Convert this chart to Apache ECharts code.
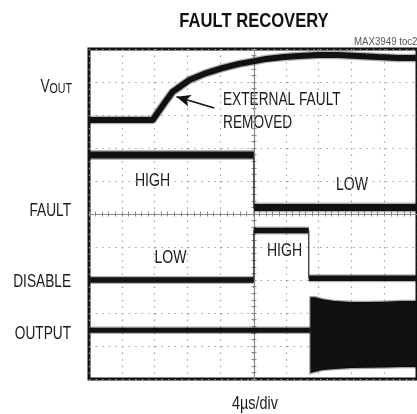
<!DOCTYPE html>
<html>
<head>
<meta charset="utf-8">
<script src="https://cdn.jsdelivr.net/npm/echarts@6/dist/echarts.min.js"></script>
<style>html,body{margin:0;padding:0;background:#fff}#c{width:417px;height:414px}</style>
</head>
<body>
<div id="c"></div>
<script>
// ---- data (time in µs, level in divisions from bottom) ----
const voutTime  = [0, 7.76, 8.61, 9.45, 10.18, 11.03, 12.24, 14.30, 16.24, 18.30, 20.36, 21.58, 23.76, 25.58, 28.0, 30.42, 32.85, 35.27, 37.70, 40];
const voutLevel = [7.85, 7.85, 8.15, 8.45, 8.70, 8.85, 9.06, 9.27, 9.42, 9.55, 9.64, 9.70, 9.76, 9.79, 9.82, 9.82, 9.79, 9.76, 9.73, 9.73];

const faultTime  = [0, 20.1, 40];
const faultLevel = [6.79, 5.2];

const disableTime  = [0, 20.1, 26.8, 40];
const disableLevel = [3.0, 4.5, 3.05];

const outputTime  = [0, 27.0];
const outputLevel = [1.48];

const bandTime   = [27.0, 27.6, 28.5, 30, 32, 34, 36, 38, 40];
const bandTop    = [2.48, 2.48, 2.42, 2.36, 2.33, 2.33, 2.34, 2.36, 2.36];
const bandBottom = [0.18, 0.22, 0.27, 0.30, 0.33, 0.34, 0.35, 0.36, 0.36];

const arrowTail = [15.27, 8.21];
const arrowTip  = [10.67, 8.55];

const FONT = "'Liberation Sans', Arial, sans-serif";
const SX = 0.76;
const INK = '#1a1a1a';

function levelsToSegments(times, levels) {
  const out = [];
  for (let i = 0; i < levels.length; i++) {
    if (i > 0) out.push('-');
    out.push([times[i], levels[i]]);
    out.push([times[i + 1], levels[i]]);
  }
  return out;
}
function levelsToEdges(times, levels) {
  const out = [];
  for (let i = 1; i < levels.length; i++) {
    if (i > 1) out.push('-');
    out.push([times[i], levels[i - 1]]);
    out.push([times[i], levels[i]]);
  }
  return out;
}
const vout = voutTime.map((t, i) => [t, voutLevel[i]]);

function trace(data, w, fuzz) {
  return [
    { type: 'line', data, symbol: 'none', silent: true, animation: false, connectNulls: false,
      lineStyle: { width: w + fuzz, color: 'rgba(0,0,0,0.3)' }, z: 3 },
    { type: 'line', data, symbol: 'none', silent: true, animation: false, connectNulls: false,
      lineStyle: { width: w, color: '#111' }, z: 4 }
  ];
}
function edge(data) {
  return { type: 'line', data, symbol: 'none', silent: true, animation: false, connectNulls: false,
    lineStyle: { width: 1.3, color: '#333' }, z: 4 };
}
function label(text, x, y, align, size, sx, extra) {
  return { type: 'text', x: x, y: y, scaleX: sx, silent: true,
    style: Object.assign({ text: text, x: 0, y: 0, align: align, verticalAlign: 'middle',
      fontFamily: FONT, fontSize: size, fill: INK }, extra || {}) };
}

const dotted = { show: true, lineStyle: { color: '#9a9a9a', width: 1.2, type: [1.4, 5.2] } };
const hidden = { axisLine: { show: false }, axisTick: { show: false }, axisLabel: { show: false } };
const centerTick = (inside) => ({
  axisTick: { show: true, length: 2.5, inside: inside, lineStyle: { color: '#8a8a8a' } },
  minorTick: { show: true, splitNumber: 5, length: 2.5, lineStyle: { color: '#8a8a8a' } },
  axisLabel: { show: false }, splitLine: { show: false }
});

const chart = echarts.init(document.getElementById('c'), null, { renderer: 'canvas' });
const voutSeries = trace(vout, 6, 2.5);
voutSeries[1].markLine = {
  silent: true, animation: false, symbol: ['none', 'arrow'], symbolSize: [9, 14],
  label: { show: false },
  lineStyle: { color: '#111', width: 1.6, type: 'solid' },
  data: [[{ coord: arrowTail }, { coord: arrowTip }]]
};

const option = {
  backgroundColor: '#fff',
  animation: false,
  grid: { left: 89, top: 49, width: 330, height: 330, show: true, borderColor: '#111', borderWidth: 3, backgroundColor: 'transparent' },
  xAxis: [
    Object.assign({ type: 'value', min: 0, max: 40, interval: 4, splitLine: dotted }, hidden),
    Object.assign({ type: 'value', min: 0, max: 40, interval: 4, position: 'bottom', offset: -165,
      axisLine: { show: true, onZero: false, lineStyle: { color: '#8a8a8a', width: 1.2 } } }, centerTick(false)),
    Object.assign({ type: 'value', min: 0, max: 40, interval: 4, position: 'bottom', offset: -165,
      axisLine: { show: false, onZero: false } }, centerTick(true))
  ],
  yAxis: [
    Object.assign({ type: 'value', min: 0, max: 10, interval: 1, splitLine: dotted }, hidden),
    Object.assign({ type: 'value', min: 0, max: 10, interval: 1, position: 'left', offset: -165,
      axisLine: { show: true, onZero: false, lineStyle: { color: '#8a8a8a', width: 1.2 } } }, centerTick(false)),
    Object.assign({ type: 'value', min: 0, max: 10, interval: 1, position: 'left', offset: -165,
      axisLine: { show: false, onZero: false } }, centerTick(true))
  ],
  series: [
    ...voutSeries,
    ...trace(levelsToSegments(faultTime, faultLevel), 7, 3),
    edge(levelsToEdges(faultTime, faultLevel)),
    ...trace(levelsToSegments(disableTime, disableLevel), 5.5, 2.5),
    edge(levelsToEdges(disableTime, disableLevel)),
    ...trace(levelsToSegments(outputTime, outputLevel), 5, 2.5),
    {
      type: 'custom', silent: true, animation: false, clip: true, z: 4,
      data: [[bandTime[0], bandTop[0]]],
      renderItem: function (params, api) {
        const pts = [];
        for (let i = 0; i < bandTime.length; i++) pts.push(api.coord([bandTime[i], bandTop[i]]));
        for (let i = bandTime.length - 1; i >= 0; i--) pts.push(api.coord([bandTime[i], bandBottom[i]]));
        return { type: 'polygon', shape: { points: pts },
          style: { fill: '#111', stroke: 'rgba(0,0,0,0.35)', lineWidth: 2.5 } };
      }
    }
  ],
  graphic: [
    label('FAULT RECOVERY', 254, 21, 'center', 21, 0.79, { fontWeight: 'bold', fill: '#111' }),
    label('MAX3949 toc20', 354, 42, 'left', 11, 0.88, { fill: '#555' }),
    { type: 'text', x: 72, y: 87, scaleX: SX, silent: true,
      style: { text: '{v|V}{o|OUT}', x: 0, y: 0, align: 'right', verticalAlign: 'middle', fontFamily: FONT, fill: INK,
        rich: { v: { fontSize: 18, fontFamily: FONT, fill: INK, verticalAlign: 'bottom' },
                o: { fontSize: 14, fontFamily: FONT, fill: INK, verticalAlign: 'bottom' } } } },
    label('FAULT', 71, 211, 'right', 18, SX),
    label('DISABLE', 71, 282, 'right', 18, SX),
    label('OUTPUT', 71, 334, 'right', 18, SX),
    label('4µs/div', 255, 404, 'center', 18, 0.8),
    label('EXTERNAL FAULT', 223, 100, 'left', 18, SX),
    label('REMOVED', 223, 123, 'left', 18, SX),
    label('HIGH', 152.5, 181, 'center', 18, 0.78),
    label('LOW', 352, 185, 'center', 18, 0.78),
    label('LOW', 170.5, 258, 'center', 18, 0.78),
    label('HIGH', 284.5, 251, 'center', 18, 0.78)
  ]
};
chart.setOption(option);
</script>
</body>
</html>
